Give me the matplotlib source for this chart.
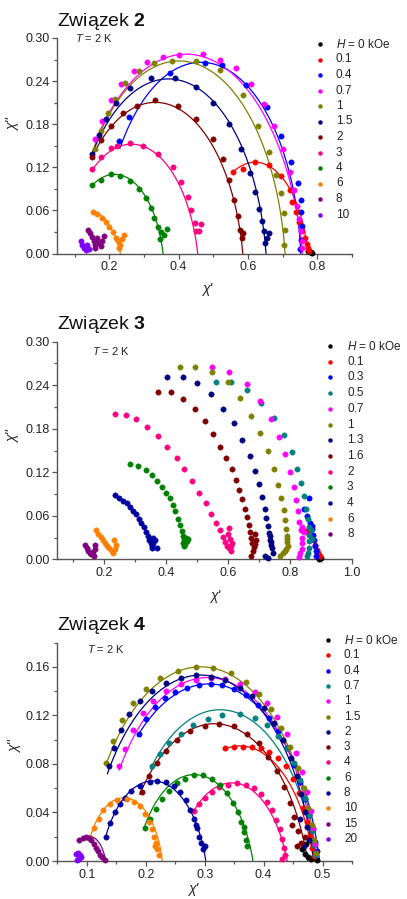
import numpy as np
import matplotlib
matplotlib.use('Agg')
import matplotlib.pyplot as plt
from matplotlib.ticker import MultipleLocator

plt.rcParams['font.family'] = ['Liberation Sans', 'DejaVu Sans']
plt.rcParams['mathtext.fontset'] = 'custom'
plt.rcParams['mathtext.rm'] = 'Liberation Sans'
plt.rcParams['mathtext.it'] = 'Liberation Sans:italic'
plt.rcParams['mathtext.bf'] = 'Liberation Sans:bold'

# ---------------- colours (Origin palette) ----------------
COL = {'black': '#000000', 'red': '#ff0000', 'blue': '#0000ff', 'magenta': '#ff00ff',
       'olive': '#808000', 'navy': '#000080', 'wine': '#800000', 'pink': '#ff0080',
       'green': '#008000', 'orange': '#ff8000', 'purple': '#800080', 'violet': '#8000ff',
       'teal': '#008080', 'dblue': '#0000a0'}

# ================= Związek 2 =================
z2_labels = ['0', '0.1', '0.4', '0.7', '1', '1.5', '2', '3', '4', '6', '8', '10']
z2_colors = ['black', 'red', 'blue', 'magenta', 'olive', 'navy', 'wine', 'pink', 'green', 'orange', 'purple', 'violet']
z2_h0 = [(0.772, 0.004), (0.776, 0.003), (0.779, 0.002), (0.782, 0.002), (0.785, 0.001)]
z2_h01 = [(0.558, 0.113), (0.585, 0.118), (0.62, 0.127), (0.66, 0.123), (0.695, 0.108), (0.72, 0.088),
          (0.727, 0.072), (0.738, 0.058), (0.748, 0.044), (0.757, 0.032), (0.764, 0.022), (0.769, 0.013),
          (0.773, 0.007), (0.776, 0.003)]
z2_h04 = [(0.229, 0.157), (0.257, 0.190), (0.374, 0.251), (0.475, 0.265), (0.525, 0.262), (0.594, 0.235),
          (0.656, 0.204), (0.695, 0.164), (0.723, 0.127), (0.743, 0.098), (0.752, 0.075), (0.752, 0.058),
          (0.755, 0.038), (0.752, 0.019), (0.749, 0.006)]
z2_h07 = [(0.16, 0.160), (0.18, 0.185), (0.205, 0.213), (0.235, 0.236), (0.27, 0.254), (0.31, 0.267),
          (0.355, 0.274), (0.40, 0.277), (0.47, 0.278), (0.52, 0.27), (0.565, 0.258), (0.61, 0.236),
          (0.645, 0.208), (0.675, 0.178), (0.70, 0.145), (0.72, 0.113), (0.733, 0.088), (0.742, 0.066),
          (0.748, 0.048), (0.752, 0.032), (0.755, 0.018), (0.757, 0.008)]
z2_h1 = [(0.158, 0.146), (0.175, 0.17), (0.195, 0.195), (0.215, 0.215), (0.245, 0.237), (0.285, 0.254),
         (0.33, 0.265), (0.38, 0.268), (0.45, 0.268), (0.52, 0.255), (0.585, 0.220), (0.628, 0.178),
         (0.661, 0.141), (0.680, 0.109), (0.695, 0.084), (0.704, 0.056), (0.707, 0.033), (0.704, 0.012)]
z2_h15 = [(0.149, 0.139), (0.17, 0.165), (0.19, 0.187), (0.22, 0.209), (0.26, 0.23), (0.32, 0.245),
          (0.39, 0.244), (0.45, 0.232), (0.50, 0.21), (0.545, 0.18), (0.58, 0.145), (0.605, 0.112),
          (0.62, 0.085), (0.632, 0.062), (0.64, 0.045), (0.645, 0.032), (0.655, 0.022), (0.648, 0.015),
          (0.66, 0.028)]
z2_h2 = [(0.15, 0.135), (0.175, 0.158), (0.205, 0.178), (0.24, 0.195), (0.28, 0.205), (0.331, 0.214),
         (0.398, 0.206), (0.451, 0.187), (0.498, 0.160), (0.527, 0.131), (0.546, 0.102), (0.561, 0.075),
         (0.570, 0.052), (0.577, 0.033), (0.587, 0.029), (0.582, 0.022)]
z2_h3 = [(0.15, 0.117), (0.175, 0.135), (0.205, 0.147), (0.221, 0.150), (0.259, 0.154), (0.298, 0.150),
         (0.341, 0.138), (0.384, 0.121), (0.408, 0.100), (0.427, 0.079), (0.436, 0.061), (0.446, 0.042),
         (0.451, 0.031), (0.46, 0.032), (0.465, 0.041)]
z2_h4 = [(0.149, 0.096), (0.175, 0.103), (0.205, 0.110), (0.23, 0.108), (0.26, 0.101), (0.285, 0.09),
         (0.305, 0.077), (0.32, 0.064), (0.33, 0.05), (0.34, 0.037), (0.35, 0.03), (0.357, 0.026),
         (0.365, 0.034), (0.345, 0.02)]
z2_h6 = [(0.153, 0.058), (0.165, 0.055), (0.178, 0.05), (0.19, 0.044), (0.2, 0.037), (0.21, 0.03),
         (0.218, 0.022), (0.225, 0.017), (0.232, 0.012), (0.238, 0.02), (0.242, 0.026), (0.228, 0.008)]
z2_h8 = [(0.138, 0.033), (0.145, 0.028), (0.15, 0.023), (0.155, 0.018), (0.16, 0.012), (0.165, 0.022),
         (0.17, 0.015), (0.175, 0.010), (0.18, 0.018), (0.185, 0.025), (0.158, 0.008)]
z2_h10 = [(0.117, 0.018), (0.122, 0.012), (0.127, 0.008), (0.132, 0.005), (0.137, 0.012), (0.142, 0.006)]
z2_series = [z2_h0, z2_h01, z2_h04, z2_h07, z2_h1, z2_h15, z2_h2, z2_h3, z2_h4, z2_h6, z2_h8, z2_h10]
# fitted arcs (circles in the Cole-Cole plane): start point, a point on the top, chi_T
z2_fit_start = [None, (0.556, 0.113), (0.231, 0.147), (0.159, 0.155), (0.152, 0.142), (0.149, 0.137),
                (0.149, 0.133), (0.149, 0.115), (0.149, 0.094), (0.152, 0.060), None, None]
z2_fit_top = [None, (0.625, 0.127), (0.455, 0.266), (0.44, 0.277), (0.405, 0.268), (0.365, 0.243),
              (0.318, 0.210), (0.255, 0.152), (0.207, 0.110), (0.195, 0.043), None, None]
z2_fit_end = [None, 0.772, 0.752, 0.757, 0.707, 0.652, 0.585, 0.455, 0.355, 0.232, None, None]

# ================= Związek 3 =================
z3_labels = ['0', '0.1', '0.3', '0.5', '0.7', '1', '1.3', '1.6', '2', '3', '4', '6', '8']
z3_colors = ['black', 'red', 'blue', 'teal', 'magenta', 'olive', 'navy', 'wine', 'pink', 'green', 'dblue', 'orange', 'purple']
z3_h0 = [(0.893, 0.006), (0.897, 0.003), (0.9, 0.002), (0.895, 0.001)]
z3_h01 = [(0.84, 0.04), (0.852, 0.039), (0.862, 0.035), (0.872, 0.028), (0.88, 0.02), (0.887, 0.013),
          (0.892, 0.008), (0.896, 0.004)]
z3_h03 = [(0.86, 0.085), (0.845, 0.07), (0.855, 0.06), (0.863, 0.05), (0.872, 0.046), (0.87, 0.042),
          (0.875, 0.034), (0.878, 0.026), (0.88, 0.018), (0.883, 0.011), (0.885, 0.005)]
z3_h05 = [(0.56, 0.245), (0.61, 0.245), (0.66, 0.233), (0.708, 0.215), (0.748, 0.195), (0.78, 0.172),
          (0.805, 0.148), (0.822, 0.125), (0.835, 0.105), (0.845, 0.087), (0.852, 0.07), (0.857, 0.056),
          (0.86, 0.044), (0.862, 0.034), (0.862, 0.025), (0.86, 0.016), (0.857, 0.009), (0.855, 0.004),
          (0.868, 0.04), (0.87, 0.028)]
z3_h07 = [(0.55, 0.265), (0.605, 0.258), (0.66, 0.241), (0.705, 0.218), (0.74, 0.193), (0.765, 0.168),
          (0.785, 0.145), (0.8, 0.121), (0.812, 0.1), (0.82, 0.082), (0.826, 0.066), (0.83, 0.052),
          (0.834, 0.04), (0.838, 0.03), (0.84, 0.022), (0.838, 0.014), (0.832, 0.008), (0.828, 0.003),
          (0.845, 0.038), (0.84, 0.044)]
z3_h1 = [(0.445, 0.265), (0.495, 0.265), (0.55, 0.258), (0.6, 0.244), (0.64, 0.223), (0.675, 0.198),
         (0.705, 0.174), (0.73, 0.15), (0.748, 0.125), (0.762, 0.103), (0.772, 0.085), (0.78, 0.068),
         (0.785, 0.054), (0.788, 0.042), (0.79, 0.032), (0.792, 0.024), (0.795, 0.018), (0.788, 0.014),
         (0.783, 0.011), (0.778, 0.008), (0.768, 0.004), (0.792, 0.028)]
z3_h13 = [(0.405, 0.252), (0.455, 0.252), (0.5, 0.243), (0.545, 0.228), (0.585, 0.207), (0.62, 0.188),
          (0.647, 0.165), (0.67, 0.143), (0.688, 0.122), (0.7, 0.104), (0.71, 0.086), (0.718, 0.07),
          (0.724, 0.057), (0.729, 0.046), (0.733, 0.036), (0.736, 0.027), (0.738, 0.02), (0.742, 0.015),
          (0.745, 0.009), (0.72, 0.004), (0.728, 0.002), (0.735, 0.032), (0.74, 0.024)]
z3_h16 = [(0.375, 0.23), (0.415, 0.23), (0.455, 0.221), (0.495, 0.207), (0.525, 0.191), (0.552, 0.173),
          (0.575, 0.155), (0.595, 0.14), (0.612, 0.125), (0.625, 0.11), (0.637, 0.096), (0.647, 0.083),
          (0.655, 0.07), (0.662, 0.058), (0.668, 0.047), (0.672, 0.038), (0.676, 0.03), (0.679, 0.023),
          (0.683, 0.017), (0.688, 0.021), (0.69, 0.027), (0.676, 0.005), (0.682, 0.012), (0.686, 0.035)]
z3_h2 = [(0.235, 0.200), (0.27, 0.199), (0.305, 0.193), (0.34, 0.183), (0.375, 0.170), (0.405, 0.155),
         (0.435, 0.140), (0.46, 0.124), (0.485, 0.108), (0.508, 0.092), (0.528, 0.077), (0.547, 0.063),
         (0.562, 0.050), (0.575, 0.040), (0.585, 0.031), (0.592, 0.024), (0.598, 0.019), (0.603, 0.015),
         (0.609, 0.018), (0.613, 0.022), (0.606, 0.028), (0.6, 0.035), (0.604, 0.043), (0.61, 0.012)]
z3_h3 = [(0.284, 0.132), (0.31, 0.129), (0.335, 0.123), (0.355, 0.116), (0.372, 0.108), (0.388, 0.1),
         (0.401, 0.092), (0.412, 0.084), (0.422, 0.075), (0.431, 0.066), (0.439, 0.056), (0.446, 0.047),
         (0.451, 0.039), (0.455, 0.032), (0.458, 0.026), (0.462, 0.021), (0.467, 0.025), (0.465, 0.03),
         (0.46, 0.018), (0.456, 0.022), (0.47, 0.028)]
z3_h4 = [(0.237, 0.088), (0.25, 0.085), (0.263, 0.081), (0.275, 0.077), (0.285, 0.072), (0.295, 0.067),
         (0.305, 0.062), (0.313, 0.056), (0.321, 0.05), (0.329, 0.044), (0.336, 0.038), (0.342, 0.032),
         (0.347, 0.027), (0.352, 0.023), (0.356, 0.019), (0.36, 0.022), (0.364, 0.026), (0.358, 0.03),
         (0.372, 0.015), (0.354, 0.016)]
z3_h6 = [(0.175, 0.040), (0.182, 0.035), (0.19, 0.031), (0.197, 0.027), (0.204, 0.023), (0.211, 0.019),
         (0.218, 0.015), (0.225, 0.012), (0.231, 0.010), (0.236, 0.014), (0.238, 0.020), (0.234, 0.026),
         (0.228, 0.008)]
z3_h8 = [(0.140, 0.020), (0.145, 0.016), (0.150, 0.012), (0.155, 0.009), (0.160, 0.007), (0.165, 0.010),
         (0.170, 0.014), (0.172, 0.020), (0.168, 0.005)]
z3_series = [z3_h0, z3_h01, z3_h03, z3_h05, z3_h07, z3_h1, z3_h13, z3_h16, z3_h2, z3_h3, z3_h4, z3_h6, z3_h8]

# ================= Związek 4 =================
z4_labels = ['0', '0.1', '0.4', '0.7', '1', '1.5', '2', '3', '4', '6', '8', '10', '15', '20']
z4_colors = ['black', 'red', 'blue', 'teal', 'magenta', 'olive', 'navy', 'wine', 'pink', 'green', 'dblue', 'orange', 'purple', 'violet']
z4_h0 = [(0.465, 0.01), (0.47, 0.006), (0.475, 0.003), (0.48, 0.002), (0.485, 0.004), (0.49, 0.001), (0.472, 0.014)]
z4_h01 = [(0.335, 0.093), (0.35, 0.094), (0.365, 0.094), (0.38, 0.094), (0.395, 0.093), (0.41, 0.09),
          (0.425, 0.085), (0.438, 0.078), (0.45, 0.068), (0.46, 0.056), (0.467, 0.044), (0.473, 0.032),
          (0.478, 0.021), (0.482, 0.011), (0.485, 0.004)]
z4_h04 = [(0.188, 0.105), (0.20, 0.117), (0.215, 0.127), (0.232, 0.134), (0.25, 0.139), (0.27, 0.143),
          (0.29, 0.145), (0.31, 0.146), (0.33, 0.145), (0.35, 0.142), (0.37, 0.137), (0.39, 0.129),
          (0.41, 0.118), (0.425, 0.107), (0.44, 0.093), (0.452, 0.079), (0.462, 0.065), (0.47, 0.051),
          (0.477, 0.038), (0.483, 0.026), (0.487, 0.016), (0.49, 0.008)]
z4_h07 = [(0.21, 0.078), (0.225, 0.088), (0.24, 0.097), (0.26, 0.105), (0.28, 0.112), (0.305, 0.117),
          (0.33, 0.12), (0.36, 0.121), (0.385, 0.118), (0.405, 0.112), (0.425, 0.103), (0.44, 0.093),
          (0.452, 0.081), (0.462, 0.067), (0.47, 0.052), (0.477, 0.038), (0.482, 0.025), (0.486, 0.013),
          (0.488, 0.005)]
z4_h1 = [(0.155, 0.078), (0.165, 0.092), (0.178, 0.108), (0.195, 0.122), (0.212, 0.132), (0.235, 0.14),
         (0.26, 0.146), (0.285, 0.149), (0.31, 0.151), (0.335, 0.15), (0.36, 0.146), (0.385, 0.139),
         (0.405, 0.13), (0.423, 0.119), (0.44, 0.105), (0.455, 0.089), (0.466, 0.073), (0.474, 0.057),
         (0.48, 0.041), (0.484, 0.027), (0.487, 0.014)]
z4_h15 = [(0.133, 0.081), (0.145, 0.099), (0.16, 0.116), (0.178, 0.13), (0.2, 0.142), (0.225, 0.151),
          (0.255, 0.157), (0.285, 0.16), (0.315, 0.159), (0.345, 0.155), (0.37, 0.148), (0.393, 0.138),
          (0.413, 0.125), (0.43, 0.11), (0.445, 0.094), (0.458, 0.077), (0.468, 0.06), (0.476, 0.044),
          (0.482, 0.03), (0.486, 0.017), (0.489, 0.007)]
z4_h2 = [(0.137, 0.078), (0.147, 0.093), (0.158, 0.108), (0.172, 0.121), (0.19, 0.132), (0.21, 0.14),
         (0.235, 0.147), (0.26, 0.151), (0.285, 0.153), (0.31, 0.152), (0.335, 0.149), (0.36, 0.143),
         (0.38, 0.136), (0.40, 0.126), (0.418, 0.114), (0.433, 0.1), (0.446, 0.085), (0.456, 0.07),
         (0.464, 0.055), (0.47, 0.04), (0.474, 0.028), (0.477, 0.017), (0.462, 0.035), (0.468, 0.012)]
z4_h3 = [(0.193, 0.057), (0.205, 0.07), (0.219, 0.081), (0.235, 0.091), (0.253, 0.1), (0.275, 0.107),
         (0.3, 0.111), (0.325, 0.113), (0.35, 0.111), (0.372, 0.105), (0.392, 0.097), (0.408, 0.086),
         (0.422, 0.074), (0.434, 0.061), (0.444, 0.048), (0.452, 0.036), (0.458, 0.025), (0.463, 0.015),
         (0.448, 0.03), (0.456, 0.012), (0.47, 0.02)]
z4_h4 = [(0.282, 0.041), (0.29, 0.047), (0.3, 0.052), (0.312, 0.057), (0.325, 0.061), (0.34, 0.063),
         (0.355, 0.064), (0.37, 0.063), (0.383, 0.06), (0.395, 0.055), (0.405, 0.049), (0.414, 0.042),
         (0.421, 0.034), (0.427, 0.026), (0.431, 0.018), (0.434, 0.011), (0.436, 0.005), (0.432, 0.002)]
z4_h6 = [(0.199, 0.027), (0.207, 0.035), (0.217, 0.043), (0.228, 0.051), (0.24, 0.058), (0.253, 0.064),
         (0.267, 0.068), (0.282, 0.071), (0.297, 0.071), (0.312, 0.068), (0.326, 0.063), (0.338, 0.056),
         (0.348, 0.048), (0.356, 0.04), (0.362, 0.032), (0.367, 0.024), (0.37, 0.017), (0.372, 0.012),
         (0.366, 0.028)]
z4_h8 = [(0.133, 0.020), (0.140, 0.031), (0.148, 0.040), (0.157, 0.047), (0.165, 0.052), (0.175, 0.058),
         (0.19, 0.062), (0.207, 0.065), (0.22, 0.066), (0.235, 0.065), (0.248, 0.062), (0.258, 0.057),
         (0.268, 0.05), (0.275, 0.042), (0.282, 0.035), (0.287, 0.027), (0.29, 0.02), (0.293, 0.015),
         (0.297, 0.01), (0.285, 0.03), (0.3, 0.012)]
z4_h10 = [(0.105, 0.019), (0.112, 0.027), (0.12, 0.035), (0.128, 0.042), (0.14, 0.047), (0.152, 0.05),
          (0.168, 0.051), (0.18, 0.049), (0.19, 0.045), (0.198, 0.039), (0.205, 0.032), (0.21, 0.026),
          (0.214, 0.02), (0.218, 0.015), (0.22, 0.01), (0.222, 0.005), (0.216, 0.012)]
z4_h15f = [(0.087, 0.017), (0.093, 0.019), (0.098, 0.0195), (0.103, 0.019), (0.108, 0.017), (0.112, 0.014),
           (0.116, 0.011), (0.119, 0.008), (0.122, 0.005), (0.126, 0.003), (0.131, 0.001)]
z4_h20 = [(0.081, 0.006), (0.085, 0.007), (0.088, 0.005), (0.09, 0.003), (0.086, 0.002), (0.083, 0.001)]
z4_series = [z4_h0, z4_h01, z4_h04, z4_h07, z4_h1, z4_h15, z4_h2, z4_h3, z4_h4, z4_h6, z4_h8, z4_h10, z4_h15f, z4_h20]
z4_fit_start = [None, (0.332, 0.092), (0.186, 0.103), (0.208, 0.076), (0.155, 0.075), (0.133, 0.080),
                (0.135, 0.072), (0.19, 0.055), (0.28, 0.040), (0.197, 0.027), (0.132, 0.020),
                (0.105, 0.018), (0.088, 0.016), None]
z4_fit_top = [None, (0.375, 0.094), (0.305, 0.146), (0.35, 0.123), (0.315, 0.151), (0.30, 0.160),
              (0.305, 0.153), (0.325, 0.113), (0.355, 0.064), (0.29, 0.071), (0.215, 0.066),
              (0.167, 0.052), (0.103, 0.0205), None]
z4_fit_end = [None, 0.485, 0.495, 0.488, 0.487, 0.49, 0.485, 0.475, 0.44, 0.382, 0.302, 0.228, 0.132, None]

# ---------------- figure ----------------
W, H = 407, 899
fig = plt.figure(figsize=(W / 100, H / 100), dpi=100)
AXC = '#555555'


def px_axes(l, t, r, b):
    return fig.add_axes([l / W, 1 - b / H, (r - l) / W, (b - t) / H])


def style(ax, xlim, ylim, xmaj, xmin, ymaj, ymin, xfmt, yfmt):
    ax.set_xlim(*xlim)
    ax.set_ylim(*ylim)
    ax.xaxis.set_major_locator(MultipleLocator(xmaj))
    ax.xaxis.set_minor_locator(MultipleLocator(xmin))
    ax.yaxis.set_major_locator(MultipleLocator(ymaj))
    ax.yaxis.set_minor_locator(MultipleLocator(ymin))
    ax.xaxis.set_major_formatter(plt.FormatStrFormatter(xfmt))
    ax.yaxis.set_major_formatter(plt.FormatStrFormatter(yfmt))
    for s in ['top', 'right']:
        ax.spines[s].set_visible(False)
    for s in ['left', 'bottom']:
        ax.spines[s].set_color(AXC)
        ax.spines[s].set_linewidth(1.0)
    ax.tick_params(which='both', direction='out', color=AXC, width=0.9, labelsize=9,
                   labelcolor='#222222', pad=2)
    ax.tick_params(which='major', length=3.5)
    ax.tick_params(which='minor', length=2)
    ax.patch.set_alpha(0)


def arc(ax, p0, p1, xe, color):
    # circle through start point, top point and (chi_T, 0)
    (x1, y1), (x2, y2), (x3, y3) = p0, p1, (xe, 0.0)
    d = 2 * (x1 * (y2 - y3) + x2 * (y3 - y1) + x3 * (y1 - y2))
    cx = ((x1 ** 2 + y1 ** 2) * (y2 - y3) + (x2 ** 2 + y2 ** 2) * (y3 - y1) + (x3 ** 2 + y3 ** 2) * (y1 - y2)) / d
    cy = ((x1 ** 2 + y1 ** 2) * (x3 - x2) + (x2 ** 2 + y2 ** 2) * (x1 - x3) + (x3 ** 2 + y3 ** 2) * (x2 - x1)) / d
    r = np.hypot(x1 - cx, y1 - cy)
    t0 = np.arctan2(y1 - cy, x1 - cx)
    t1 = np.arctan2(y3 - cy, x3 - cx)
    t = np.linspace(t0, t1, 400)
    ax.plot(cx + r * np.cos(t), np.clip(cy + r * np.sin(t), 0, None), color=color, lw=0.9, zorder=2)


def draw(ax, series, colors, fits=None):
    if fits is not None:
        for i, c in enumerate(colors):
            if fits[0][i] is not None:
                arc(ax, fits[0][i], fits[1][i], fits[2][i], COL[c])
    for pts, c in zip(series, colors):
        xs = [p[0] for p in pts]
        ys = [p[1] for p in pts]
        ax.plot(xs, ys, 'o', ls='none', color=COL[c], ms=3.9, mec=COL[c], mew=0.3, zorder=3,
                clip_on=False)


ov = fig.add_axes([0, 0, 1, 1], zorder=10)
ov.set_xlim(0, W)
ov.set_ylim(H, 0)
ov.axis('off')


def legend(labels, colors, mx, tx, y0, dy):
    for i, (lab, c) in enumerate(zip(labels, colors)):
        y = y0 + i * dy
        ov.plot([mx], [y], 'o', color=COL[c], ms=3.2, mew=0)
        txt = '$H$ = 0 kOe' if i == 0 else lab
        ov.text(tx, y, txt, fontsize=8.5, va='center', ha='left', color='#222222')


def titles(name, ty, tx_T, tyT, xl_x, xl_y, yl_x, yl_y):
    ov.text(57, ty, 'Związek $\\mathbf{' + name + '}$', fontsize=14, va='baseline', ha='left',
            color='#111111')
    ov.text(tx_T, tyT, '$T$ = 2 K', fontsize=8, va='center', ha='left', color='#222222')
    ov.text(xl_x, xl_y, "χ'", fontsize=10, style='italic', va='center', ha='center', color='#222222')
    ov.text(yl_x, yl_y, "χ''", fontsize=10, style='italic', va='center', ha='center', rotation=90,
            color='#222222')


# panel 1
ax1 = px_axes(57.3, 38, 352, 253.5)
style(ax1, (0.05, 0.9), (0, 0.30), 0.2, 0.1, 0.06, 0.03, '%.1f', '%.2f')
draw(ax1, z2_series, z2_colors, (z2_fit_start, z2_fit_top, z2_fit_end))
legend(z2_labels, z2_colors, 320, 336, 44, 15.5)
titles('2', 26, 75, 38, 207, 289, 13, 125)

# panel 2
ax2 = px_axes(57.3, 341.7, 352, 559.3)
style(ax2, (0.05, 1.0), (0, 0.30), 0.2, 0.1, 0.06, 0.03, '%.1f', '%.2f')
draw(ax2, z3_series, z3_colors)
legend(z3_labels, z3_colors, 330, 347, 346, 15.7)
titles('3', 329, 92, 351, 215, 596, 13, 437)

# panel 3
ax3 = px_axes(57.3, 642.7, 352, 861)
style(ax3, (0.05, 0.55), (0, 0.18), 0.1, 0.05, 0.04, 0.02, '%.1f', '%.2f')
draw(ax3, z4_series, z4_colors, (z4_fit_start, z4_fit_top, z4_fit_end))
legend(z4_labels, z4_colors, 328, 344, 640, 15.3)
titles('4', 630, 87, 649, 193, 889, 15, 747)

fig.savefig('out.png', dpi=100)
